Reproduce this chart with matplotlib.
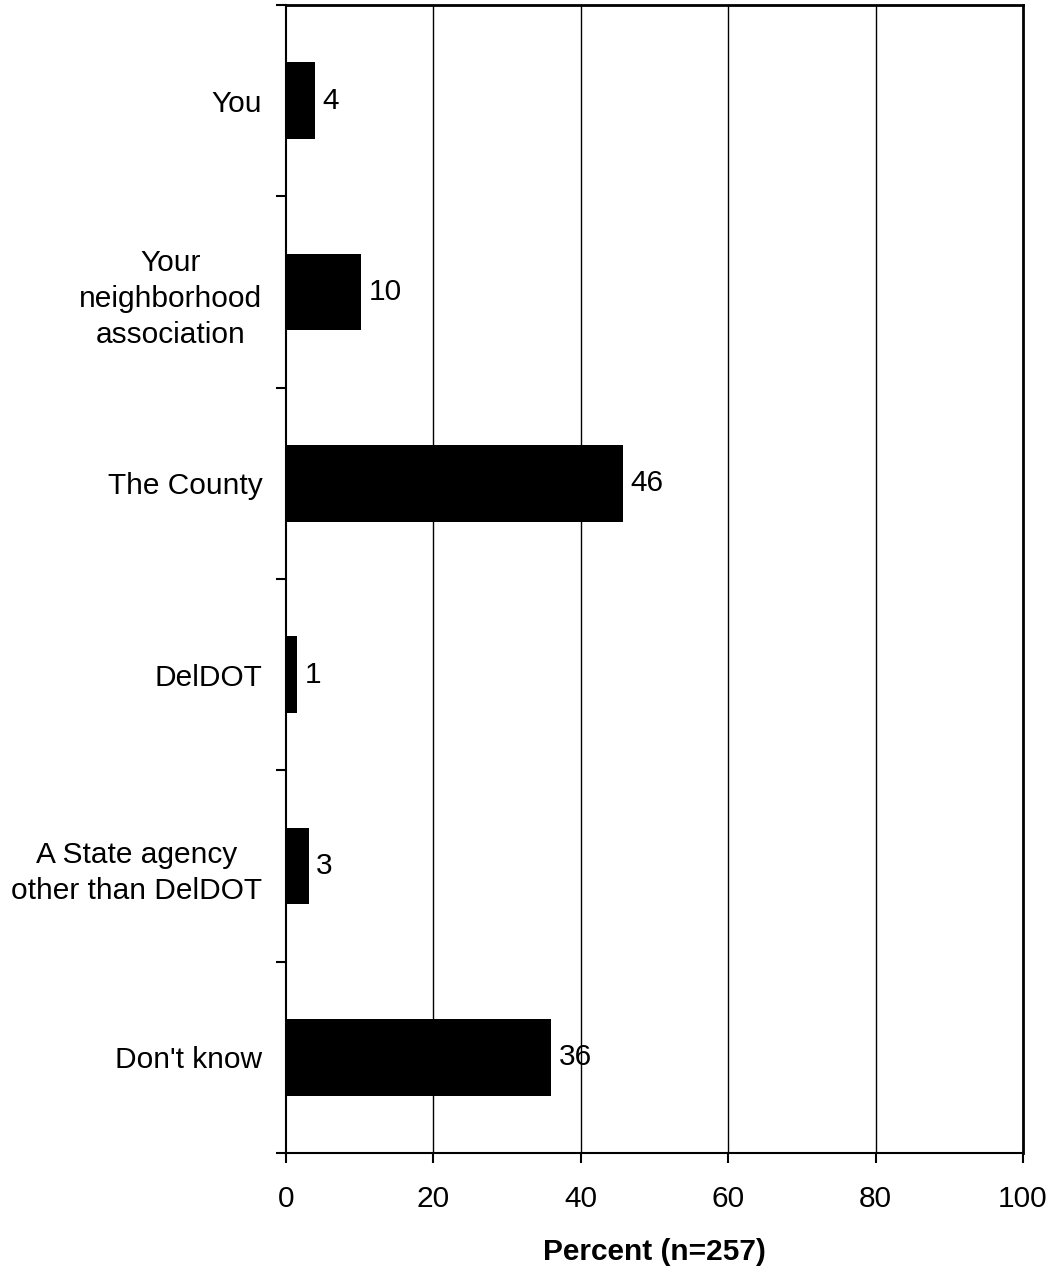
import numpy as np
import matplotlib
matplotlib.use("Agg")
import matplotlib.pyplot as plt

plt.rcParams["font.family"] = ["Liberation Sans", "DejaVu Sans"]

categories = ["You", "Your\nneighborhood\nassociation", "The County", "DelDOT",
              "A State agency\nother than DelDOT", "Don't know"]
values = [3.9, 10.2, 45.7, 1.5, 3.1, 36.0]
labels = ["4", "10", "46", "1", "3", "36"]
xticks = [0, 20, 40, 60, 80, 100]

fs = 21.5

fig = plt.figure(figsize=(10.53, 12.66), dpi=100)
ax = fig.add_axes([286 / 1053, 1 - 1153 / 1266, 737 / 1053, 1148 / 1266])

# top category first
y = np.arange(len(categories))[::-1]
ax.barh(y, values, height=0.4, color="black", zorder=3)
for yi, v, lab in zip(y, values, labels):
    ax.text(v + 1.0, yi, lab, va="center", ha="left", fontsize=fs, zorder=4)

ax.set_xlim(0, 100)
ax.set_ylim(-0.5, len(categories) - 0.5)

# vertical gridlines
for g in xticks[1:-1]:
    ax.axvline(g, color="black", linewidth=1, zorder=1)

ax.set_xticks(xticks)
ax.set_xticklabels([str(t) for t in xticks], fontsize=fs)
ax.tick_params(axis="x", direction="out", length=7, width=1.5, pad=16)

# y ticks at the boundaries, labels at centers
ax.set_yticks(np.arange(-0.5, len(categories), 1.0))
ax.set_yticklabels([])
ax.tick_params(axis="y", which="major", direction="out", length=7, width=1.5)
ax.set_yticks(y, minor=True)
ax.set_yticklabels(categories, minor=True, fontsize=fs, linespacing=1.36,
                   ha="right", multialignment="center")
ax.tick_params(axis="y", which="minor", length=0, pad=17)

for s in ["top", "right"]:
    ax.spines[s].set_linewidth(2)
for s in ["left", "bottom"]:
    ax.spines[s].set_linewidth(1.5)

ax.set_xlabel("Percent (n=257)", fontsize=fs, fontweight="bold", labelpad=18)

fig.savefig("out.png", dpi=100)
